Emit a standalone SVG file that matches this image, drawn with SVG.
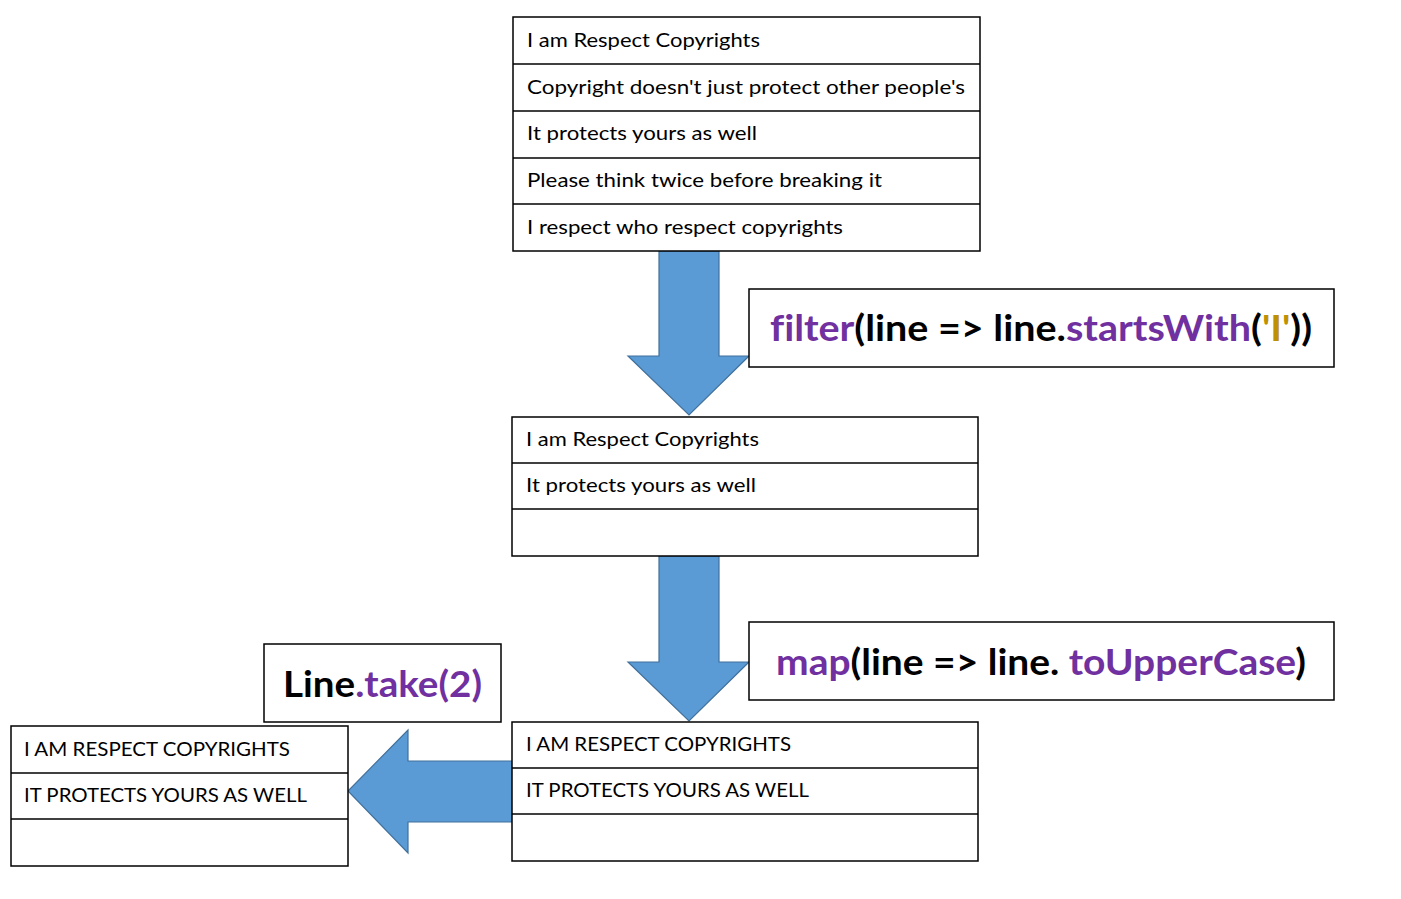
<svg xmlns="http://www.w3.org/2000/svg" width="1401" height="899" viewBox="0 0 1401 899">
<style>
.tbl{fill:#fff;stroke:#000;stroke-width:1.5}
.rule{stroke:#000;stroke-width:1.5}
.t{font-family:Lato,"Liberation Sans",sans-serif;font-size:20px;fill:#000;font-variant-ligatures:none}
.code{font-family:Lato,"Liberation Sans",sans-serif;font-size:36px;font-weight:bold;fill:#000;font-variant-ligatures:none}
.kw{fill:#7030A0}
.str{fill:#BF9000}
.arrow{fill:#5B9BD5;stroke:#41719C;stroke-width:1.2;stroke-linejoin:miter}
</style>
<rect width="1401" height="899" fill="#fff"/>
<g id="connectors">
<path class="arrow" d="M659,251 L719,251 L719,356 L749,356 L689,415 L628,356 L659,356 Z"/>
<path class="arrow" d="M659,556 L719,556 L719,662 L749,662 L689,721 L628,662 L659,662 Z"/>
<path class="arrow" d="M514,761 L514,822 L408,822 L408,853 L348,791 L408,730 L408,761 Z"/>
</g>
<g id="table-source">
<rect class="tbl" x="513" y="17" width="467" height="234"/>
<line class="rule" x1="513" y1="64" x2="980" y2="64"/>
<line class="rule" x1="513" y1="111" x2="980" y2="111"/>
<line class="rule" x1="513" y1="158" x2="980" y2="158"/>
<line class="rule" x1="513" y1="204" x2="980" y2="204"/>
<text class="t" x="527" y="47" textLength="233" lengthAdjust="spacingAndGlyphs">I am Respect Copyrights</text>
<text class="t" x="527" y="94" textLength="438" lengthAdjust="spacingAndGlyphs">Copyright doesn't just protect other people's</text>
<text class="t" x="527" y="140" textLength="230" lengthAdjust="spacingAndGlyphs">It protects yours as well</text>
<text class="t" x="527" y="187" textLength="355" lengthAdjust="spacingAndGlyphs">Please think twice before breaking it</text>
<text class="t" x="527" y="234" textLength="316" lengthAdjust="spacingAndGlyphs">I respect who respect copyrights</text>
</g>
<g id="label-filter">
<rect class="tbl" x="749" y="289" width="585" height="78"/>
<text class="code" x="770" y="341" textLength="542" lengthAdjust="spacingAndGlyphs"><tspan class="kw">filter</tspan>(line =&gt; line.<tspan class="kw">startsWith</tspan>(<tspan class="str">'I'</tspan>))</text>
</g>
<g id="table-filtered">
<rect class="tbl" x="512" y="417" width="466" height="139"/>
<line class="rule" x1="512" y1="463" x2="978" y2="463"/>
<line class="rule" x1="512" y1="509" x2="978" y2="509"/>
<text class="t" x="526" y="446" textLength="233" lengthAdjust="spacingAndGlyphs">I am Respect Copyrights</text>
<text class="t" x="526" y="492" textLength="230" lengthAdjust="spacingAndGlyphs">It protects yours as well</text>
</g>
<g id="label-map">
<rect class="tbl" x="749" y="622" width="585" height="78"/>
<text class="code" x="776" y="675" textLength="530" lengthAdjust="spacingAndGlyphs"><tspan class="kw">map</tspan>(line =&gt; line. <tspan class="kw">toUpperCase</tspan>)</text>
</g>
<g id="table-mapped">
<rect class="tbl" x="512" y="722" width="466" height="139"/>
<line class="rule" x1="512" y1="768" x2="978" y2="768"/>
<line class="rule" x1="512" y1="814" x2="978" y2="814"/>
<text class="t" x="526" y="751" textLength="265" lengthAdjust="spacingAndGlyphs">I AM RESPECT COPYRIGHTS</text>
<text class="t" x="526" y="797" textLength="283" lengthAdjust="spacingAndGlyphs">IT PROTECTS YOURS AS WELL</text>
</g>
<g id="label-take">
<rect class="tbl" x="264" y="644" width="237" height="78"/>
<text class="code" x="283" y="697" textLength="199" lengthAdjust="spacingAndGlyphs">Line<tspan class="kw">.take(2)</tspan></text>
</g>
<g id="table-taken">
<rect class="tbl" x="11" y="726" width="337" height="140"/>
<line class="rule" x1="11" y1="773" x2="348" y2="773"/>
<line class="rule" x1="11" y1="819" x2="348" y2="819"/>
<text class="t" x="24" y="756" textLength="266" lengthAdjust="spacingAndGlyphs">I AM RESPECT COPYRIGHTS</text>
<text class="t" x="24" y="802" textLength="283" lengthAdjust="spacingAndGlyphs">IT PROTECTS YOURS AS WELL</text>
</g>
</svg>
